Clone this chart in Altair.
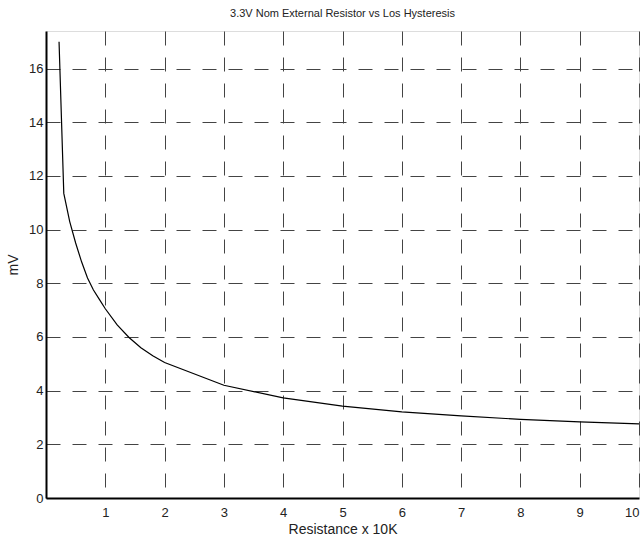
import altair as alt
import pandas as pd

resistance = [0.22, 0.30, 0.40, 0.50, 0.60, 0.70, 0.80, 0.90, 1.00, 1.20, 1.40, 1.60, 1.80, 2.00,
              3.0, 4.0, 5.0, 6.0, 7.0, 8.0, 9.0, 10.0]
hysteresis_mv = [17.0, 11.35, 10.3, 9.5, 8.8, 8.2, 7.75, 7.4, 7.05, 6.45, 5.98, 5.6, 5.3, 5.05,
                 4.2, 3.73, 3.42, 3.21, 3.06, 2.93, 2.84, 2.76]
x_ticks = [1, 2, 3, 4, 5, 6, 7, 8, 9, 10]
y_ticks = [0, 2, 4, 6, 8, 10, 12, 14, 16]

df = pd.DataFrame({"r": resistance, "mv": hysteresis_mv})

FONT = "Liberation Sans"

chart = alt.Chart(df).mark_line(color="black", strokeWidth=1.2, interpolate="linear").encode(
    x=alt.X("r:Q", title="Resistance x 10K",
            scale=alt.Scale(domain=[0, 10], nice=False, zero=False),
            axis=alt.Axis(values=x_ticks, grid=True, gridDash=[14, 12], gridColor="#444444",
                          gridOpacity=1, gridWidth=1, ticks=False, domain=True,
                          domainColor="black", domainWidth=2, labelFont=FONT, labelFontSize=13,
                          labelColor="#222222", labelPadding=8, titleFont=FONT,
                          titleFontSize=14, titleFontWeight="normal", titleColor="#222222",
                          titlePadding=3)),
    y=alt.Y("mv:Q", title="mV",
            scale=alt.Scale(domain=[0, 17.4], nice=False, zero=True),
            axis=alt.Axis(values=y_ticks, grid=True, gridDash=[14, 12], gridColor="#444444",
                          gridOpacity=1, gridWidth=1, ticks=False, domain=True,
                          domainColor="black", domainWidth=2, labelFont=FONT, labelFontSize=13,
                          labelColor="#222222", labelPadding=3, titleFont=FONT,
                          titleFontSize=14, titleFontWeight="normal", titleColor="#222222",
                          titlePadding=8)),
).properties(
    width=593,
    height=467,
    title=alt.TitleParams("3.3V Nom External Resistor vs Los Hysteresis", font=FONT,
                          fontSize=11, fontWeight="normal", color="#222222",
                          anchor="middle", offset=12),
    autosize=alt.AutoSizeParams(type="none"),
    padding={"left": 46, "top": 31, "right": 5, "bottom": 44},
).configure_view(
    stroke="black", strokeWidth=1.5
).configure(background="white")

chart.save("out.html", embed_options={"renderer": "svg", "actions": False})
